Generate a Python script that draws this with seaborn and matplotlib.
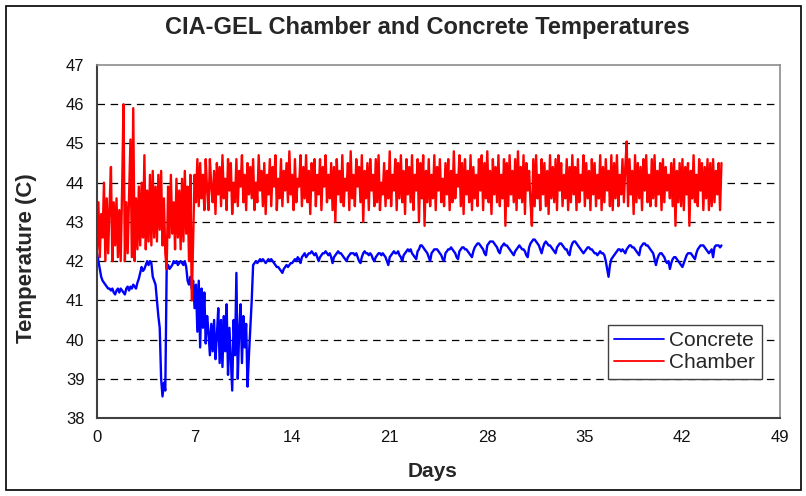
import numpy as np
import pandas as pd
import matplotlib
import matplotlib.pyplot as plt
import matplotlib.patches as mpatches
import seaborn as sns

matplotlib.use("Agg")

# ── Data ──────────────────────────────────────────────────────────────────────
# both series sampled every 0.1 day, 0 → 44.8 days
concrete = [
    42.2, 42.0, 41.8, 41.6, 41.5, 41.45, 41.4, 41.35, 41.3, 41.3,
    41.25, 41.3, 41.2, 41.15, 41.25, 41.3, 41.2, 41.3, 41.25, 41.2,
    41.15, 41.3, 41.35, 41.25, 41.35, 41.3, 41.4, 41.35, 41.3, 41.45,
    41.55, 41.7, 41.85, 41.75, 41.8, 41.9, 42.0, 41.9, 42.0, 41.95,
    41.6, 41.5, 41.4, 41.0, 40.6, 40.3, 39.0, 38.55, 38.9, 38.7,
    41.85, 41.9, 41.8, 41.85, 41.9, 42.0, 41.95, 42.0, 41.9, 41.95,
    42.0, 41.95, 41.9, 42.0, 41.85, 41.5, 41.4, 41.6, 41.3, 41.5,
    40.8, 41.4, 40.2, 41.5, 39.8, 41.3, 40.3, 41.2, 39.9, 40.6,
    40.2, 39.6, 40.4, 39.7, 40.5, 39.5, 40.1, 40.8, 39.4, 40.5,
    39.3, 40.6, 39.7, 40.9, 39.1, 40.3, 39.5, 38.7, 40.5, 39.6,
    41.7, 39.0, 40.2, 40.9, 39.4, 40.6, 39.8, 40.4, 38.8, 39.6,
    40.3, 41.0, 41.9, 41.95, 42.0, 41.95, 42.0, 42.05, 42.0, 42.05,
    42.0, 41.95, 42.0, 42.05, 42.0, 42.05, 42.0, 41.95, 41.9, 41.85,
    41.85, 41.8, 41.75, 41.7, 41.8, 41.85, 41.9, 41.85, 41.9, 41.95,
    41.95, 42.0, 42.05, 42.0, 42.1, 42.05, 41.95, 42.1, 42.15, 42.2,
    42.1, 42.15, 42.2, 42.2, 42.25, 42.2, 42.15, 42.2, 42.1, 42.0,
    42.1, 42.15, 42.2, 42.2, 42.25, 42.2, 42.15, 42.2, 42.1, 41.95,
    42.1, 42.15, 42.2, 42.25, 42.2, 42.2, 42.15, 42.1, 42.05, 42.0,
    42.1, 42.15, 42.2, 42.2, 42.2, 42.15, 42.2, 42.1, 42.0, 41.95,
    42.1, 42.2, 42.25, 42.2, 42.2, 42.15, 42.2, 42.15, 42.05, 42.0,
    42.1, 42.15, 42.2, 42.2, 42.15, 42.2, 42.15, 42.1, 42.0, 41.9,
    42.1, 42.15, 42.2, 42.25, 42.2, 42.2, 42.25, 42.15, 42.1, 42.0,
    42.15, 42.2, 42.25, 42.3, 42.25, 42.3, 42.2, 42.15, 42.1, 42.05,
    42.25, 42.3, 42.4, 42.4, 42.35, 42.3, 42.25, 42.2, 42.1, 42.0,
    42.2, 42.25, 42.3, 42.3, 42.3, 42.25, 42.2, 42.15, 42.05, 42.0,
    42.2, 42.25, 42.3, 42.3, 42.35, 42.3, 42.25, 42.2, 42.1, 42.05,
    42.25, 42.3, 42.35, 42.35, 42.3, 42.3, 42.25, 42.2, 42.15, 42.1,
    42.25, 42.35, 42.4, 42.45, 42.45, 42.4, 42.35, 42.3, 42.2, 42.15,
    42.4, 42.45, 42.5, 42.5, 42.5, 42.45, 42.4, 42.35, 42.25, 42.2,
    42.35, 42.4, 42.45, 42.4, 42.4, 42.35, 42.3, 42.25, 42.2, 42.15,
    42.25, 42.3, 42.35, 42.4, 42.35, 42.3, 42.3, 42.25, 42.15, 42.1,
    42.35, 42.45, 42.5, 42.55, 42.55, 42.5, 42.45, 42.4, 42.3, 42.2,
    42.35, 42.45, 42.5, 42.45, 42.4, 42.4, 42.35, 42.3, 42.25, 42.2,
    42.35, 42.4, 42.45, 42.45, 42.4, 42.35, 42.3, 42.3, 42.2, 42.15,
    42.35, 42.45, 42.5, 42.5, 42.45, 42.4, 42.35, 42.3, 42.25, 42.2,
    42.25, 42.3, 42.35, 42.35, 42.3, 42.3, 42.25, 42.2, 42.2, 42.15,
    42.2, 42.25, 42.2, 42.2, 42.15, 42.0, 41.8, 41.6, 41.9, 42.05,
    42.1, 42.15, 42.2, 42.25, 42.3, 42.3, 42.25, 42.3, 42.25, 42.2,
    42.3, 42.35, 42.4, 42.4, 42.35, 42.35, 42.3, 42.25, 42.2, 42.15,
    42.35, 42.4, 42.45, 42.45, 42.4, 42.4, 42.35, 42.3, 42.25, 42.2,
    42.05, 41.9, 42.05, 42.15, 42.2, 42.2, 42.15, 42.1, 42.0, 41.95,
    42.0, 41.8, 41.95, 42.05, 42.1, 42.1, 42.05, 42.0, 41.95, 41.9,
    41.85, 41.95, 42.05, 42.15, 42.2, 42.2, 42.2, 42.15, 42.1, 42.05,
    42.2, 42.3, 42.35, 42.4, 42.4, 42.4, 42.35, 42.3, 42.25, 42.2,
    42.25, 42.3, 42.1, 42.35, 42.4, 42.4, 42.4, 42.35, 42.4,
]

chamber = [
    42.3, 43.5, 42.1, 43.2, 42.6, 44.0, 42.0, 43.6, 42.2, 43.4,
    44.4, 42.0, 43.5, 42.4, 43.6, 42.1, 43.3, 42.0, 43.8, 46.0,
    42.0, 43.5, 42.2, 43.7, 45.1, 42.1, 45.9, 42.0, 43.6, 42.3,
    43.9, 42.4, 44.0, 42.6, 44.7, 42.3, 43.8, 42.5, 44.2, 42.4,
    44.3, 42.6, 43.9, 42.5, 44.2, 42.8, 44.3, 42.4, 43.6, 42.2,
    41.8, 43.9, 42.6, 44.2, 42.7, 43.5, 42.3, 44.1, 42.6, 43.8,
    42.3, 44.1, 42.5, 44.3, 42.7, 43.9, 42.0, 44.2, 41.0, 42.6,
    44.2, 43.5, 44.6, 43.4, 44.5, 43.6, 44.2, 43.3, 44.6, 43.8,
    43.3, 44.6, 43.9, 43.5, 44.3, 43.2, 44.5, 43.7, 44.4, 43.4,
    44.7, 43.6, 44.1, 43.3, 44.6, 43.8, 44.5, 43.2, 44.0, 43.5,
    44.6, 43.4, 44.3, 43.9, 44.7, 43.5, 44.2, 43.3, 44.5, 43.7,
    44.4, 43.6, 44.6, 43.3, 44.0, 43.5, 44.7, 43.8, 44.3, 43.4,
    44.5, 43.2, 44.2, 43.7, 44.6, 43.4, 44.4, 43.9, 44.7, 43.3,
    44.1, 43.6, 44.6, 43.4, 44.3, 43.8, 44.5, 43.5, 44.8, 43.7,
    44.2, 43.3, 44.6, 43.5, 44.1, 43.9, 44.7, 43.4, 44.4, 43.6,
    44.7, 43.5, 44.3, 43.2, 44.5, 43.8, 44.6, 43.4, 44.2, 43.7,
    44.6, 43.3, 44.4, 43.9, 44.7, 43.5, 44.2, 43.6, 44.5, 43.3,
    44.4, 43.0, 44.6, 43.7, 44.3, 43.5, 44.7, 43.4, 44.1, 43.8,
    44.5, 43.3, 44.8, 43.6, 44.2, 43.4, 44.6, 43.9, 44.4, 43.5,
    44.7, 43.0, 44.3, 43.6, 44.5, 43.3, 44.6, 43.8, 44.2, 43.4,
    44.6, 43.5, 44.7, 43.3, 44.0, 43.7, 44.5, 43.4, 44.3, 43.6,
    44.8, 43.4, 44.2, 43.8, 44.6, 43.3, 44.5, 43.6, 44.7, 43.5,
    44.3, 43.2, 44.6, 43.7, 44.4, 43.5, 44.7, 43.3, 44.2, 43.8,
    44.6, 43.0, 44.5, 43.6, 44.7, 42.9, 44.3, 43.5, 44.6, 43.4,
    44.2, 43.6, 44.7, 43.3, 44.4, 43.8, 44.6, 43.5, 44.1, 43.4,
    44.5, 43.7, 44.6, 43.3, 44.3, 43.5, 44.8, 43.6, 44.2, 43.9,
    44.7, 43.4, 44.5, 43.2, 44.6, 43.7, 44.3, 43.5, 44.7, 43.3,
    44.4, 43.6, 44.2, 43.4, 44.6, 43.8, 44.7, 43.3, 44.5, 43.6,
    44.8, 43.5, 44.3, 43.2, 44.6, 43.7, 44.4, 43.5, 44.7, 43.4,
    44.2, 43.6, 44.6, 42.9, 44.5, 43.4, 44.7, 43.7, 44.3, 43.5,
    44.6, 43.3, 44.8, 43.6, 44.4, 43.5, 44.7, 43.2, 44.5, 43.8,
    44.3, 43.5, 42.9, 44.6, 43.4, 44.7, 43.6, 44.2, 43.3, 44.6,
    43.7, 44.5, 43.4, 44.3, 43.2, 44.7, 43.6, 44.4, 43.5, 44.6,
    43.3, 44.7, 43.8, 44.5, 43.4, 44.2, 43.6, 44.6, 43.3, 44.4,
    43.5, 44.7, 43.7, 44.4, 43.3, 44.6, 43.5, 44.2, 43.8, 44.7,
    43.4, 44.5, 43.6, 44.3, 43.3, 44.6, 43.7, 44.5, 43.4, 44.2,
    43.6, 44.7, 43.3, 44.4, 43.5, 44.6, 43.8, 44.3, 43.4, 44.7,
    43.3, 44.5, 43.6, 44.7, 43.4, 44.2, 43.7, 44.6, 43.5, 44.4,
    45.05, 43.4, 44.6, 43.7, 44.3, 43.2, 44.7, 43.5, 44.5, 43.6,
    44.4, 43.3, 44.6, 43.8, 44.7, 43.5, 44.2, 43.4, 44.6, 43.6,
    44.7, 43.4, 44.3, 43.7, 44.5, 43.3, 44.6, 43.5, 44.4, 43.8,
    44.2, 43.6, 44.5, 43.4, 44.6, 42.9, 44.3, 43.5, 44.5, 43.4,
    44.6, 43.3, 44.4, 43.7, 44.5, 42.9, 44.3, 43.6, 44.7, 43.5,
    44.2, 43.4, 44.6, 43.8, 44.5, 43.3, 44.4, 43.6, 44.6, 43.3,
    44.5, 43.4, 44.6, 43.5, 44.3, 43.7, 44.5, 43.3, 44.5,
]

concrete_days = np.linspace(0, 44.8, len(concrete))
chamber_days = np.linspace(0, 44.8, len(chamber))

x_ticks = [0, 7, 14, 21, 28, 35, 42, 49]
y_ticks = [38, 39, 40, 41, 42, 43, 44, 45, 46, 47]

df = pd.concat([
    pd.DataFrame({"Days": concrete_days, "Temp": concrete, "Series": "Concrete"}),
    pd.DataFrame({"Days": chamber_days, "Temp": chamber, "Series": "Chamber"}),
], ignore_index=True)

# ── Style ─────────────────────────────────────────────────────────────────────
sns.set_style("white")
plt.rcParams["font.family"] = ["Liberation Sans", "DejaVu Sans"]

fig = plt.figure(figsize=(8.06, 4.96), dpi=100)
ax = fig.add_axes([97 / 806, 1 - 418 / 496, (780 - 97) / 806, (418 - 65) / 496])

sns.lineplot(data=df, x="Days", y="Temp", hue="Series",
             hue_order=["Concrete", "Chamber"],
             palette={"Concrete": "#0000FF", "Chamber": "#FF0000"},
             linewidth=1.7, estimator=None, sort=False, ax=ax)

ax.set_xlim(0, 49)
ax.set_ylim(38, 47)
ax.set_xticks(x_ticks)
ax.set_yticks(y_ticks)
ax.tick_params(axis="both", direction="out", length=5, width=1,
               color="#404040", labelsize=12, pad=4, labelcolor="#111111")

# dashed horizontal grid (bottom axis and top frame are drawn by spines)
for y in y_ticks[1:-1]:
    ax.axhline(y, color="black", linewidth=0.9, linestyle=(0, (6, 4.5)),
               zorder=0.5)

for side in ["top", "right"]:
    ax.spines[side].set_color("#8c8c8c")
    ax.spines[side].set_linewidth(1.2)
for side in ["left", "bottom"]:
    ax.spines[side].set_color("#404040")
    ax.spines[side].set_linewidth(1.5)

ax.set_xlabel("")
ax.set_ylabel("")

fig.text(427 / 806, 1 - 34 / 496, "CIA-GEL Chamber and Concrete Temperatures",
         ha="center", va="baseline", fontsize=17, fontweight="bold")
fig.text(433 / 806, 1 - 477 / 496, "Days", ha="center", va="baseline",
         fontsize=15, fontweight="bold")
fig.text(27 / 806, 1 - 258 / 496, "Temperature (C)", ha="center", va="center",
         rotation=90, fontsize=16, fontweight="bold")

# ── Legend ────────────────────────────────────────────────────────────────────
handles, labels = ax.get_legend_handles_labels()
leg = ax.legend(
    handles, labels,
    loc="upper left",
    bbox_to_anchor=(608 / 806, 1 - 325 / 496),
    bbox_transform=fig.transFigure,
    frameon=True,
    fancybox=False,
    fontsize=15,
    handlelength=2.4,
    handletextpad=0.25,
    borderpad=0.3,
    labelspacing=0.15,
    borderaxespad=0,
)
for line in leg.get_lines():
    line.set_linewidth(1.3)
leg.get_frame().set_edgecolor("#404040")
leg.get_frame().set_linewidth(1.0)
leg.get_frame().set_alpha(1)

# outer chart border
fig.patches.append(mpatches.Rectangle(
    (6 / 806, 6 / 496), 795 / 806, 484 / 496, transform=fig.transFigure,
    fill=False, edgecolor="black", linewidth=1.2))

fig.savefig("out.png", dpi=100)
